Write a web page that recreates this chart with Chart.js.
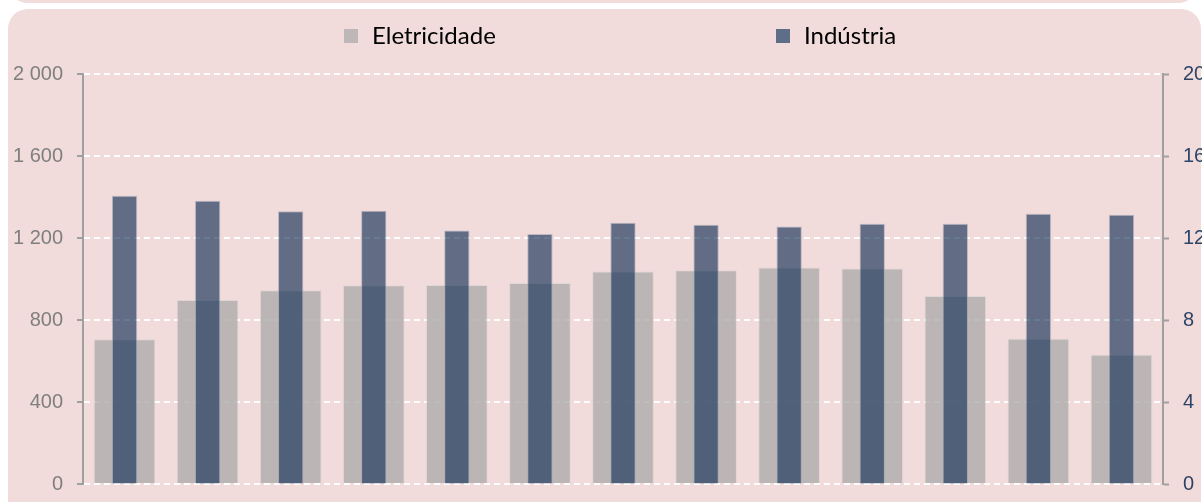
<!DOCTYPE html>
<html>
<head>
<meta charset="utf-8">
<script src="https://cdn.jsdelivr.net/npm/chart.js@4/dist/chart.umd.min.js"></script>
<style>
  html, body { margin: 0; padding: 0; width: 1202px; height: 502px; overflow: hidden; background: #ffffff; }
  #topStrip { position: absolute; left: 8px; top: -40px; width: 1190px; height: 43px; background: #F1DBDB; border-radius: 20px; }
  #box { position: absolute; left: 8px; top: 9px; width: 1193px; height: 520px; background: #F1DBDB; border-radius: 20px; }
  #wrap { position: absolute; left: 0; top: 0; width: 1240px; height: 502px; }
</style>
</head>
<body>
<div id="topStrip"></div>
<div id="box"></div>
<div id="wrap"><canvas id="c"></canvas></div>
<script>
const categories = ['1','2','3','4','5','6','7','8','9','10','11','12','13'];
const eletricidade = [706, 897, 945, 970, 971, 980, 1036, 1043, 1056, 1051, 917, 709, 630];
const industria = [14.06, 13.82, 13.3, 13.33, 12.37, 12.2, 12.74, 12.65, 12.56, 12.7, 12.7, 13.18, 13.13];
const seriesNames = ['Eletricidade', 'Indústria'];
const leftTicks = [0, 400, 800, 1200, 1600, 2000];
const rightTicks = [0, 4, 8, 12, 16, 20];

const grayColor = 'rgba(176,172,172,0.82)';
const darkColor = 'rgba(22,50,88,0.65)';

const legendPlugin = {
  id: 'customLegend',
  afterDraw(chart) {
    const ctx = chart.ctx;
    const items = [
      { text: chart.data.datasets[0].label, color: '#BDB7B7', x: 344 },
      { text: chart.data.datasets[1].label, color: '#5F6E88', x: 776 }
    ];
    ctx.save();
    ctx.font = '24px "Lato", sans-serif';
    ctx.textBaseline = 'alphabetic';
    items.forEach(it => {
      ctx.fillStyle = it.color;
      ctx.fillRect(it.x, 29, 14, 14);
      ctx.fillStyle = '#000000';
      ctx.fillText(it.text, it.x + 28, 44);
    });
    ctx.restore();
  }
};

function fmt(v) {
  return String(v).replace(/\B(?=(\d{3})+(?!\d))/g, ' ');
}

new Chart(document.getElementById('c'), {
  type: 'bar',
  data: {
    labels: categories,
    datasets: [
      {
        label: seriesNames[0],
        data: eletricidade,
        yAxisID: 'y',
        backgroundColor: grayColor,
        borderColor: 'rgba(215,210,210,0.6)',
        borderWidth: 1,
        grouped: false,
        categoryPercentage: 1,
        barPercentage: 0.742,
        order: 2
      },
      {
        label: seriesNames[1],
        data: industria,
        yAxisID: 'y1',
        backgroundColor: darkColor,
        borderColor: 'rgba(150,160,180,0.6)',
        borderWidth: 1,
        grouped: false,
        categoryPercentage: 1,
        barPercentage: 0.305,
        order: 1
      }
    ]
  },
  options: {
    responsive: true,
    maintainAspectRatio: false,
    animation: false,
    layout: { padding: { top: 74, bottom: 18, left: 0, right: 0 } },
    plugins: { legend: { display: false }, tooltip: { enabled: false } },
    scales: {
      x: { display: false },
      y: {
        position: 'left',
        min: 0, max: 2000,
        afterBuildTicks(scale) { scale.ticks = leftTicks.map(v => ({ value: v })); },
        afterFit(scale) { scale.width = 83; scale.paddingTop = 0; scale.paddingBottom = 0; },
        ticks: {
          color: '#7F7F7F',
          font: { family: '"Liberation Sans", Arial, sans-serif', size: 20 },
          padding: 14,
          callback: v => fmt(v)
        },
        grid: {
          color: 'rgba(255,255,255,0.95)',
          lineWidth: 2,
          tickColor: '#A0A0A0',
          tickLength: 6,
          tickWidth: 2
        },
        border: { display: true, color: '#A0A0A0', width: 2, dash: [6, 4] }
      },
      y1: {
        position: 'right',
        min: 0, max: 20,
        afterBuildTicks(scale) { scale.ticks = rightTicks.map(v => ({ value: v })); },
        afterFit(scale) { scale.width = 77; scale.paddingTop = 0; scale.paddingBottom = 0; },
        ticks: {
          color: '#2E4466',
          font: { family: '"Liberation Sans", Arial, sans-serif', size: 20 },
          padding: 14
        },
        grid: {
          drawOnChartArea: false,
          tickColor: '#A0A0A0',
          tickLength: 6,
          tickWidth: 2
        },
        border: { display: true, color: '#A0A0A0', width: 2 }
      }
    }
  },
  plugins: [legendPlugin]
});
</script>
</body>
</html>
